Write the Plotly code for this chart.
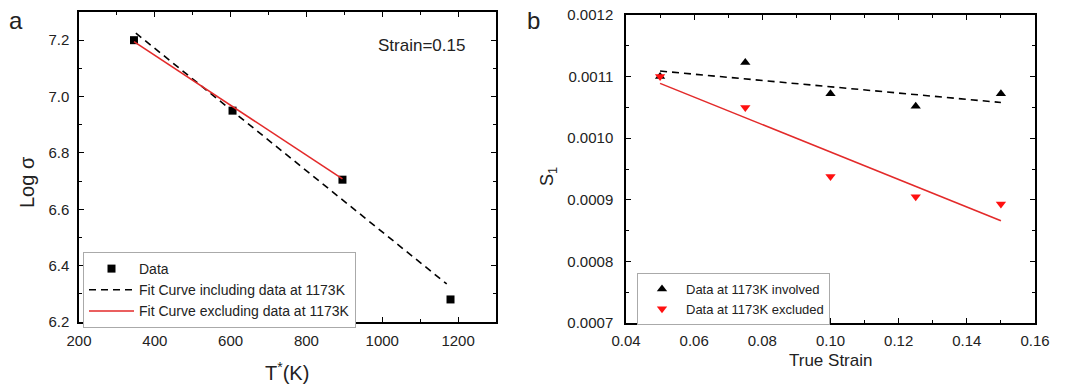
import plotly.graph_objects as go

# Panel a data
temp_K = [345, 605, 895, 1180]
log_sigma = [7.20, 6.95, 6.705, 6.28]
fit_incl_x = [350, 1170]
fit_incl_y = [7.225, 6.335]
fit_excl_x = [345, 895]
fit_excl_y = [7.195, 6.708]

# Panel b data
true_strain = [0.05, 0.075, 0.10, 0.125, 0.15]
s1_involved = [0.00110, 0.001123, 0.001072, 0.001052, 0.001072]
s1_excluded = [0.00110, 0.00105, 0.000938, 0.000905, 0.000893]
fitb_incl_x = [0.05, 0.15]
fitb_incl_y = [0.001109, 0.001058]
fitb_excl_x = [0.05, 0.15]
fitb_excl_y = [0.001089, 0.000866]

# tick labels
a_xticks = [200, 400, 600, 800, 1000, 1200]
a_yticks = [6.2, 6.4, 6.6, 6.8, 7.0, 7.2]
b_xticks = [0.04, 0.06, 0.08, 0.10, 0.12, 0.14, 0.16]
b_yticks = [0.0007, 0.0008, 0.0009, 0.0010, 0.0011, 0.0012]

FONT = "Liberation Sans, Arial, sans-serif"
RED_LINE = "#e32a2a"
RED_MK = "#ff1010"

fig = go.Figure()

# ---- panel a ----
fig.add_trace(go.Scatter(x=temp_K, y=log_sigma, mode="markers", name="Data",
                         marker=dict(symbol="square", size=8, color="black"),
                         xaxis="x", yaxis="y", legend="legend"))
fig.add_trace(go.Scatter(x=fit_incl_x, y=fit_incl_y, mode="lines",
                         name="Fit Curve including data at 1173K",
                         line=dict(color="black", width=1.6, dash="7px,5px"),
                         xaxis="x", yaxis="y", legend="legend"))
fig.add_trace(go.Scatter(x=fit_excl_x, y=fit_excl_y, mode="lines",
                         name="Fit Curve excluding data at 1173K",
                         line=dict(color=RED_LINE, width=1.6),
                         xaxis="x", yaxis="y", legend="legend"))

# ---- panel b ----
fig.add_trace(go.Scatter(x=fitb_incl_x, y=fitb_incl_y, mode="lines", showlegend=False,
                         line=dict(color="black", width=1.6, dash="7px,5px"),
                         xaxis="x2", yaxis="y2"))
fig.add_trace(go.Scatter(x=fitb_excl_x, y=fitb_excl_y, mode="lines", showlegend=False,
                         line=dict(color=RED_LINE, width=1.6),
                         xaxis="x2", yaxis="y2"))
fig.add_trace(go.Scatter(x=true_strain, y=s1_involved, mode="markers",
                         name="Data at 1173K involved",
                         marker=dict(symbol="triangle-up", size=9, color="black"),
                         xaxis="x2", yaxis="y2", legend="legend2"))
fig.add_trace(go.Scatter(x=true_strain, y=s1_excluded, mode="markers",
                         name="Data at 1173K excluded",
                         marker=dict(symbol="triangle-down", size=9, color=RED_MK),
                         xaxis="x2", yaxis="y2", legend="legend2"))

# the page body has an 8px margin, so the figure is drawn 8px in from the top-left
OFF = 8
W, H = 1068 - OFF, 385 - OFF


def fx(p):
    return (p - OFF) / W


def fy(p):
    return 1 - (p - OFF) / H


def ax(domain, rng, ticks, minor_dtick, fmt, anchor, standoff):
    return dict(domain=domain, range=rng, tickmode="array", tickvals=ticks,
                ticktext=[format(t, fmt) for t in ticks],
                showgrid=False, zeroline=False, showline=True, linecolor="black",
                linewidth=1.5, mirror="allticks", ticks="inside", ticklen=5,
                tickwidth=1.3, tickcolor="black", anchor=anchor, automargin=False,
                ticklabelstandoff=standoff, ticklabeloverflow="allow",
                tickfont=dict(family=FONT, size=15, color="#222"),
                minor=dict(dtick=minor_dtick, tick0=rng[0], ticks="inside", ticklen=3,
                           tickwidth=1.1, tickcolor="black"))


def note(text, px, py, size, angle=0):
    return dict(text=text, x=fx(px), y=fy(py), xref="paper", yref="paper",
                xanchor="center", yanchor="middle", showarrow=False, textangle=angle,
                font=dict(family=FONT, size=size, color="#222"))


fig.update_layout(
    width=W, height=H,
    margin=dict(l=0, r=0, t=0, b=0, pad=0, autoexpand=False),
    paper_bgcolor="white", plot_bgcolor="white",
    font=dict(family=FONT, color="#222"),
    xaxis=ax([fx(79), fx(496)], [200, 1300], a_xticks, 100, ".0f", "y", 4),
    yaxis=ax([fy(322), fy(12)], [6.2, 7.3], a_yticks, 0.1, ".1f", "x", 5),
    xaxis2=ax([fx(626), fx(1035)], [0.04, 0.16], b_xticks, 0.01, ".2f", "y2", 3),
    yaxis2=ax([fy(323), fy(15)], [0.0007, 0.0012], b_yticks, 0.00005, ".4f", "x2", 8),
    legend=dict(x=fx(83), y=fy(252), xanchor="left", yanchor="top",
                bgcolor="white", bordercolor="#aaaaaa", borderwidth=1,
                font=dict(family=FONT, size=14, color="#222"),
                tracegroupgap=0, itemwidth=45),
    legend2=dict(x=fx(637), y=fy(273), xanchor="left", yanchor="top",
                 bgcolor="white", bordercolor="#aaaaaa", borderwidth=1,
                 font=dict(family=FONT, size=13, color="#222"),
                 tracegroupgap=0, itemwidth=38),
    annotations=[
        note("a", 16, 21, 24),
        note("b", 533, 21, 24),
        note("Strain=0.15", 421, 45, 17),
        note("Log σ", 27, 182, 20, -90),
        note("T<sup>*</sup>(K)", 287, 371, 20),
        note("S<sub>1</sub>", 548, 177, 18, -90),
        note("True Strain", 830, 360, 17),
    ],
)

fig.write_html("out.html")
